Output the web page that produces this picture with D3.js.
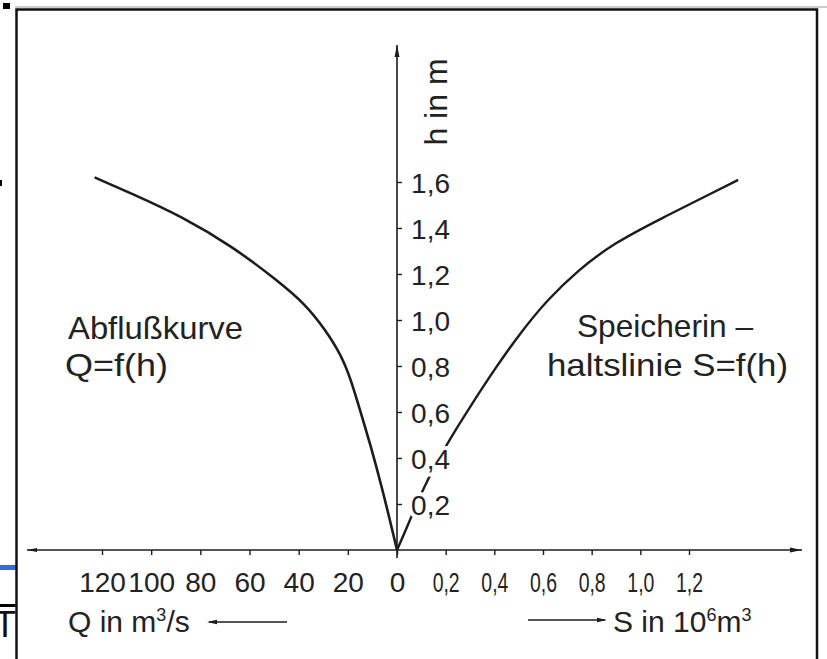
<!DOCTYPE html>
<html>
<head>
<meta charset="utf-8">
<script src="https://cdn.jsdelivr.net/npm/d3@7"></script>
<style>
  body { margin: 0; background: #fff; }
  svg { display: block; }
  text { font-family: "Liberation Sans", Arial, sans-serif; fill: #222; }
</style>
</head>
<body>
<div id="chart"></div>
<script>
// h levels (m) and discharge Q (m3/s) of the rating curve
const qH = [0, 0.13, 0.27, 0.465, 0.61, 0.74, 0.85, 0.96, 1.07, 1.17, 1.32, 1.45, 1.55, 1.62];
const qVal = [0, 2.9, 6.1, 11, 15.1, 18.7, 22.8, 29.3, 37.4, 48.4, 67, 87.5, 108, 123];
// h levels (m) and storage S (10^6 m3)
const sH = [0, 0.117, 0.261, 0.465, 0.622, 0.783, 0.943, 1.087, 1.217, 1.335, 1.443, 1.552, 1.609];
const sVal = [0, 0.049, 0.103, 0.206, 0.300, 0.399, 0.506, 0.617, 0.744, 0.892, 1.089, 1.295, 1.402];

const hTicks = [0.2, 0.4, 0.6, 0.8, 1.0, 1.2, 1.4, 1.6];
const qTicks = [0, 20, 40, 60, 80, 100, 120];
const sTicks = [0.2, 0.4, 0.6, 0.8, 1.0, 1.2];

const W = 827, H = 659;
const ink = '#1c1c1c';
const comma = d => d3.format('.1f')(d).replace('.', ',');

const svg = d3.select('#chart').append('svg')
    .attr('width', W)
    .attr('height', H);

let y = d3.scaleLinear().domain([0, 1.6]).range([550, 182]);
let xQ = d3.scaleLinear().domain([0, 120]).range([397, 102]);
let xS = d3.scaleLinear().domain([0, 1.2]).range([397, 689]);

// scan leftovers outside the frame
svg.append('rect').attr('x', 3).attr('y', 3).attr('width', 7).attr('height', 6).attr('fill', '#000');
svg.append('rect').attr('x', 0).attr('y', 180).attr('width', 2).attr('height', 6).attr('fill', '#000');
svg.append('rect').attr('x', 0).attr('y', 565).attr('width', 16).attr('height', 5).attr('fill', '#3a68d0');
svg.append('rect').attr('x', 0).attr('y', 604).attr('width', 16).attr('height', 3).attr('fill', '#000');
svg.append('text').attr('x', -6).attr('y', 637).style('font-size', '36px').style('fill', '#111').text('T');

// frame
svg.append('line').attr('x1', 15).attr('x2', W).attr('y1', 7).attr('y2', 7)
    .style('stroke', '#999').style('stroke-width', 1);
svg.append('path')
    .attr('d', 'M16.5,' + (H + 5) + 'V9.5H817V' + (H + 5))
    .style('fill', 'none').style('stroke', '#111').style('stroke-width', 2.5);

// axis lines with arrow heads
const g = svg.append('g');
g.append('line').attr('x1', 27).attr('x2', 802).attr('y1', y(0)).attr('y2', y(0))
    .style('stroke', ink).style('stroke-width', 1.6);
g.append('line').attr('x1', 397).attr('x2', 397).attr('y1', 45).attr('y2', 558)
    .style('stroke', ink).style('stroke-width', 1.6);
g.append('path').attr('d', 'M802,550l-12,-2.5v5z').style('fill', ink);
g.append('path').attr('d', 'M27,550l10,-2v4z').style('fill', ink);
g.append('path').attr('d', 'M397,45l-2.5,12h5z').style('fill', ink);

// curves (drawn below the tick labels, whose white halo breaks the S line near 0,4)
const qLine = d3.line()
    .x(i => xQ(qVal[i]))
    .y(i => y(qH[i]))
    .curve(d3.curveBasis);
const sLine = d3.line()
    .x(i => xS(sVal[i]))
    .y(i => y(sH[i]))
    .curve(d3.curveBasis);

g.append('path').attr('d', qLine(d3.range(qH.length)))
    .style('fill', 'none').style('stroke', ink).style('stroke-width', 2.6);
g.append('path').attr('d', sLine(d3.range(sH.length)))
    .style('fill', 'none').style('stroke', ink).style('stroke-width', 2.4);

// h axis ticks
const yAxis = g.append('g')
    .attr('transform', 'translate(397,0)')
    .call(d3.axisRight(y).tickValues(hTicks).tickSize(5).tickFormat(comma));
yAxis.select('.domain').remove();
yAxis.selectAll('line').style('stroke', ink).style('stroke-width', 1.4);
yAxis.selectAll('text')
    .attr('x', 53).attr('dy', '0.36em')
    .attr('text-anchor', 'end')
    .style('font-size', '28px').style('font-family', '"Liberation Sans", Arial, sans-serif')
    .style('fill', '#222')
    .style('stroke', '#fff').style('stroke-width', 8).style('paint-order', 'stroke');

// Q axis (left)
const qAxis = g.append('g')
    .attr('transform', 'translate(0,550)')
    .call(d3.axisBottom(xQ).tickValues(qTicks).tickSize(5).tickFormat(d3.format('d')));
qAxis.select('.domain').remove();
qAxis.selectAll('line').style('stroke', ink).style('stroke-width', 1.4);
qAxis.selectAll('text')
    .attr('y', 42).attr('dy', 0)
    .style('font-size', '28px').style('font-family', '"Liberation Sans", Arial, sans-serif')
    .style('fill', '#222');

// S axis (right)
const sAxis = g.append('g')
    .attr('transform', 'translate(0,550)')
    .call(d3.axisBottom(xS).tickValues(sTicks).tickSize(5).tickFormat(comma));
sAxis.select('.domain').remove();
sAxis.selectAll('line').style('stroke', ink).style('stroke-width', 1.4);
sAxis.selectAll('text')
    .attr('y', 42).attr('dy', 0)
    .attr('textLength', 27).attr('lengthAdjust', 'spacingAndGlyphs')
    .style('font-size', '28px').style('font-family', '"Liberation Sans", Arial, sans-serif')
    .style('fill', '#222');

// labels
const label = (x, yy, txt, size, len) => {
    let t = svg.append('text').attr('x', x).attr('y', yy)
        .style('font-size', size + 'px').text(txt);
    if (len) t.attr('textLength', len).attr('lengthAdjust', 'spacingAndGlyphs');
    return t;
};
label(68, 339, 'Abflußkurve', 32, 175);
label(65, 376, 'Q=f(h)', 32, 103);
label(577, 337, 'Speicherin –', 32, 176);
label(547, 376, 'haltslinie S=f(h)', 32, 241);

svg.append('text')
    .attr('transform', 'translate(447,102) rotate(-90)')
    .attr('text-anchor', 'middle')
    .style('font-size', '32px')
    .text('h in m');

// axis titles at the bottom
const qt = label(68, 632, '', 30);
qt.append('tspan').text('Q in m');
qt.append('tspan').attr('dy', -11).style('font-size', '18px').text('3');
qt.append('tspan').attr('dy', 11).text('/s');
g.append('line').attr('x1', 209).attr('x2', 287).attr('y1', 622).attr('y2', 622)
    .style('stroke', ink).style('stroke-width', 1.6);
g.append('path').attr('d', 'M207,622l10,-2.2v4.4z').style('fill', ink);

const st = label(613, 632, '', 30);
st.append('tspan').text('S in 10');
st.append('tspan').attr('dy', -11).style('font-size', '18px').text('6');
st.append('tspan').attr('dy', 11).text('m');
st.append('tspan').attr('dy', -11).style('font-size', '18px').text('3');
g.append('line').attr('x1', 528).attr('x2', 605).attr('y1', 620).attr('y2', 620)
    .style('stroke', ink).style('stroke-width', 1.6);
g.append('path').attr('d', 'M607,620l-10,-2.2v4.4z').style('fill', ink);
</script>
</body>
</html>
